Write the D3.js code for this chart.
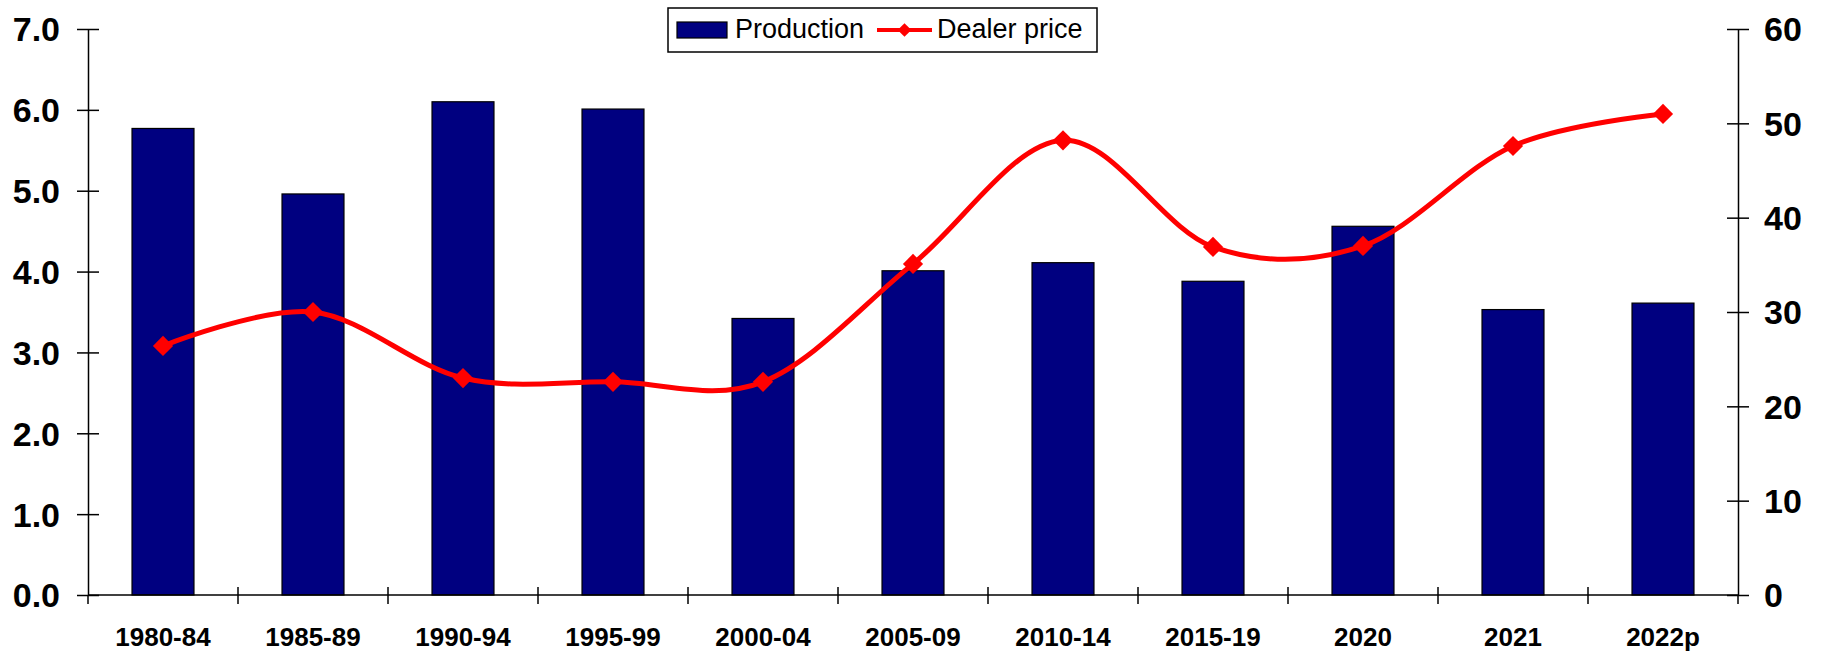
<!DOCTYPE html>
<html>
<head>
<meta charset="utf-8">
<script src="https://cdn.jsdelivr.net/npm/d3@7"></script>
<style>
  body { margin: 0; background: #fff; }
  svg { display: block; font-family: "Liberation Sans", Arial, sans-serif; }
</style>
</head>
<body>
<svg id="chart" width="1824" height="652"></svg>
<script>
// chart data
var categories = ["1980-84", "1985-89", "1990-94", "1995-99", "2000-04", "2005-09", "2010-14", "2015-19", "2020", "2021", "2022p"];
var production = [5.77, 4.96, 6.10, 6.01, 3.42, 4.01, 4.11, 3.88, 4.56, 3.53, 3.61];
var dealerPrice = [26.4, 30.0, 23.0, 22.6, 22.6, 35.1, 48.2, 36.9, 37.0, 47.6, 51.0];
var leftTicks = [0, 1, 2, 3, 4, 5, 6, 7];
var rightTicks = [0, 10, 20, 30, 40, 50, 60];

var svg = d3.select("#chart");

var plotLeft = 88, plotRight = 1738, plotTop = 29, plotBottom = 595;

// one slot per category, ticks fall on the slot edges
var slotScale = d3.scaleBand().domain(categories).range([plotLeft, plotRight]).padding(0);
var barScale = d3.scaleBand().domain(categories).range([plotLeft, plotRight])
    .paddingInner(0.587).paddingOuter(0.2935);

var yLeft = d3.scaleLinear().domain([0, 7]).range([plotBottom, plotTop]);
var yRight = d3.scaleLinear().domain([0, 60]).range([plotBottom, plotTop]);

//bars
svg.append("g").selectAll("rect")
    .data(production)
    .enter().append("rect")
    .attr("x", function(d, i){ return barScale(categories[i]); })
    .attr("width", barScale.bandwidth())
    .attr("y", function(d){ return yLeft(d); })
    .attr("height", function(d){ return plotBottom - yLeft(d); })
    .style("fill", "#000080")
    .style("stroke", "#000")
    .style("stroke-width", 1.2);

//left axis
var leftAxis = d3.axisLeft(yLeft).tickValues(leftTicks).tickSize(0).tickFormat(d3.format(".1f"));
var gl = svg.append("g").attr("transform", "translate(" + plotLeft + ",0)").call(leftAxis);
gl.select(".domain").attr("stroke", "#000").attr("stroke-width", 1.5);
gl.selectAll(".tick line").attr("x1", -11).attr("x2", 11).attr("stroke", "#000").attr("stroke-width", 1.5);
gl.selectAll(".tick text")
    .attr("x", -28).attr("dy", "0.35em")
    .style("font-size", "34px").style("font-weight", "bold").style("fill", "#000")
    .style("font-family", "Liberation Sans, Arial, sans-serif");

//right axis
var rightAxis = d3.axisRight(yRight).tickValues(rightTicks).tickSize(0);
var gr = svg.append("g").attr("transform", "translate(" + plotRight + ",0)").call(rightAxis);
gr.select(".domain").attr("stroke", "#000").attr("stroke-width", 1.5);
gr.selectAll(".tick line").attr("x1", -11).attr("x2", 11).attr("stroke", "#000").attr("stroke-width", 1.5);
gr.selectAll(".tick text")
    .attr("x", 26).attr("dy", "0.35em")
    .style("font-size", "34px").style("font-weight", "bold").style("fill", "#000")
    .style("font-family", "Liberation Sans, Arial, sans-serif");

//x axis line and category edge ticks
svg.append("line")
    .attr("x1", plotLeft).attr("x2", plotRight)
    .attr("y1", plotBottom).attr("y2", plotBottom)
    .attr("stroke", "#000").attr("stroke-width", 1.5);

var edges = categories.map(function(c){ return slotScale(c); }).concat([plotRight]);
svg.append("g").selectAll("line")
    .data(edges)
    .enter().append("line")
    .attr("x1", function(d){ return d; }).attr("x2", function(d){ return d; })
    .attr("y1", function(d, i){ return (i == 0 || i == edges.length - 1) ? plotBottom : plotBottom - 8; })
    .attr("y2", plotBottom + 9)
    .attr("stroke", "#000").attr("stroke-width", 1.5);

svg.append("g").selectAll("text")
    .data(categories)
    .enter().append("text")
    .attr("x", function(d){ return slotScale(d) + slotScale.bandwidth() / 2; })
    .attr("y", 646)
    .style("text-anchor", "middle")
    .style("font-size", "26px")
    .style("font-weight", "bold")
    .text(function(d){ return d; });

//dealer price line, smoothed like the spreadsheet version
var priceLine = d3.line()
    .x(function(d, i){ return slotScale(categories[i]) + slotScale.bandwidth() / 2; })
    .y(function(d){ return yRight(d); })
    .curve(d3.curveCatmullRom.alpha(0));

svg.append("path")
    .datum(dealerPrice)
    .attr("d", priceLine)
    .attr("fill", "none")
    .attr("stroke", "#ff0000")
    .attr("stroke-width", 5)
    .attr("stroke-linejoin", "round");

var diamond = d3.symbol().type(d3.symbolDiamond2).size(260);
svg.append("g").selectAll("path")
    .data(dealerPrice)
    .enter().append("path")
    .attr("d", diamond)
    .attr("transform", function(d, i){
        return "translate(" + (slotScale(categories[i]) + slotScale.bandwidth() / 2) + "," + yRight(d) + ")";
    })
    .attr("fill", "#ff0000");

//legend
var legend = svg.append("g");
legend.append("rect")
    .attr("x", 668).attr("y", 8).attr("width", 429).attr("height", 44)
    .attr("fill", "#fff").attr("stroke", "#000").attr("stroke-width", 1.5);
legend.append("rect")
    .attr("x", 677).attr("y", 22).attr("width", 50).attr("height", 16)
    .attr("fill", "#000080").attr("stroke", "#000").attr("stroke-width", 1.2);
legend.append("text")
    .attr("x", 735).attr("y", 38)
    .style("font-size", "27px")
    .text("Production");
legend.append("line")
    .attr("x1", 877).attr("x2", 932).attr("y1", 30).attr("y2", 30)
    .attr("stroke", "#ff0000").attr("stroke-width", 4);
legend.append("path")
    .attr("d", d3.symbol().type(d3.symbolDiamond2).size(120))
    .attr("transform", "translate(904.5,30)")
    .attr("fill", "#ff0000");
legend.append("text")
    .attr("x", 937).attr("y", 38)
    .style("font-size", "27px")
    .text("Dealer price");
</script>
</body>
</html>
